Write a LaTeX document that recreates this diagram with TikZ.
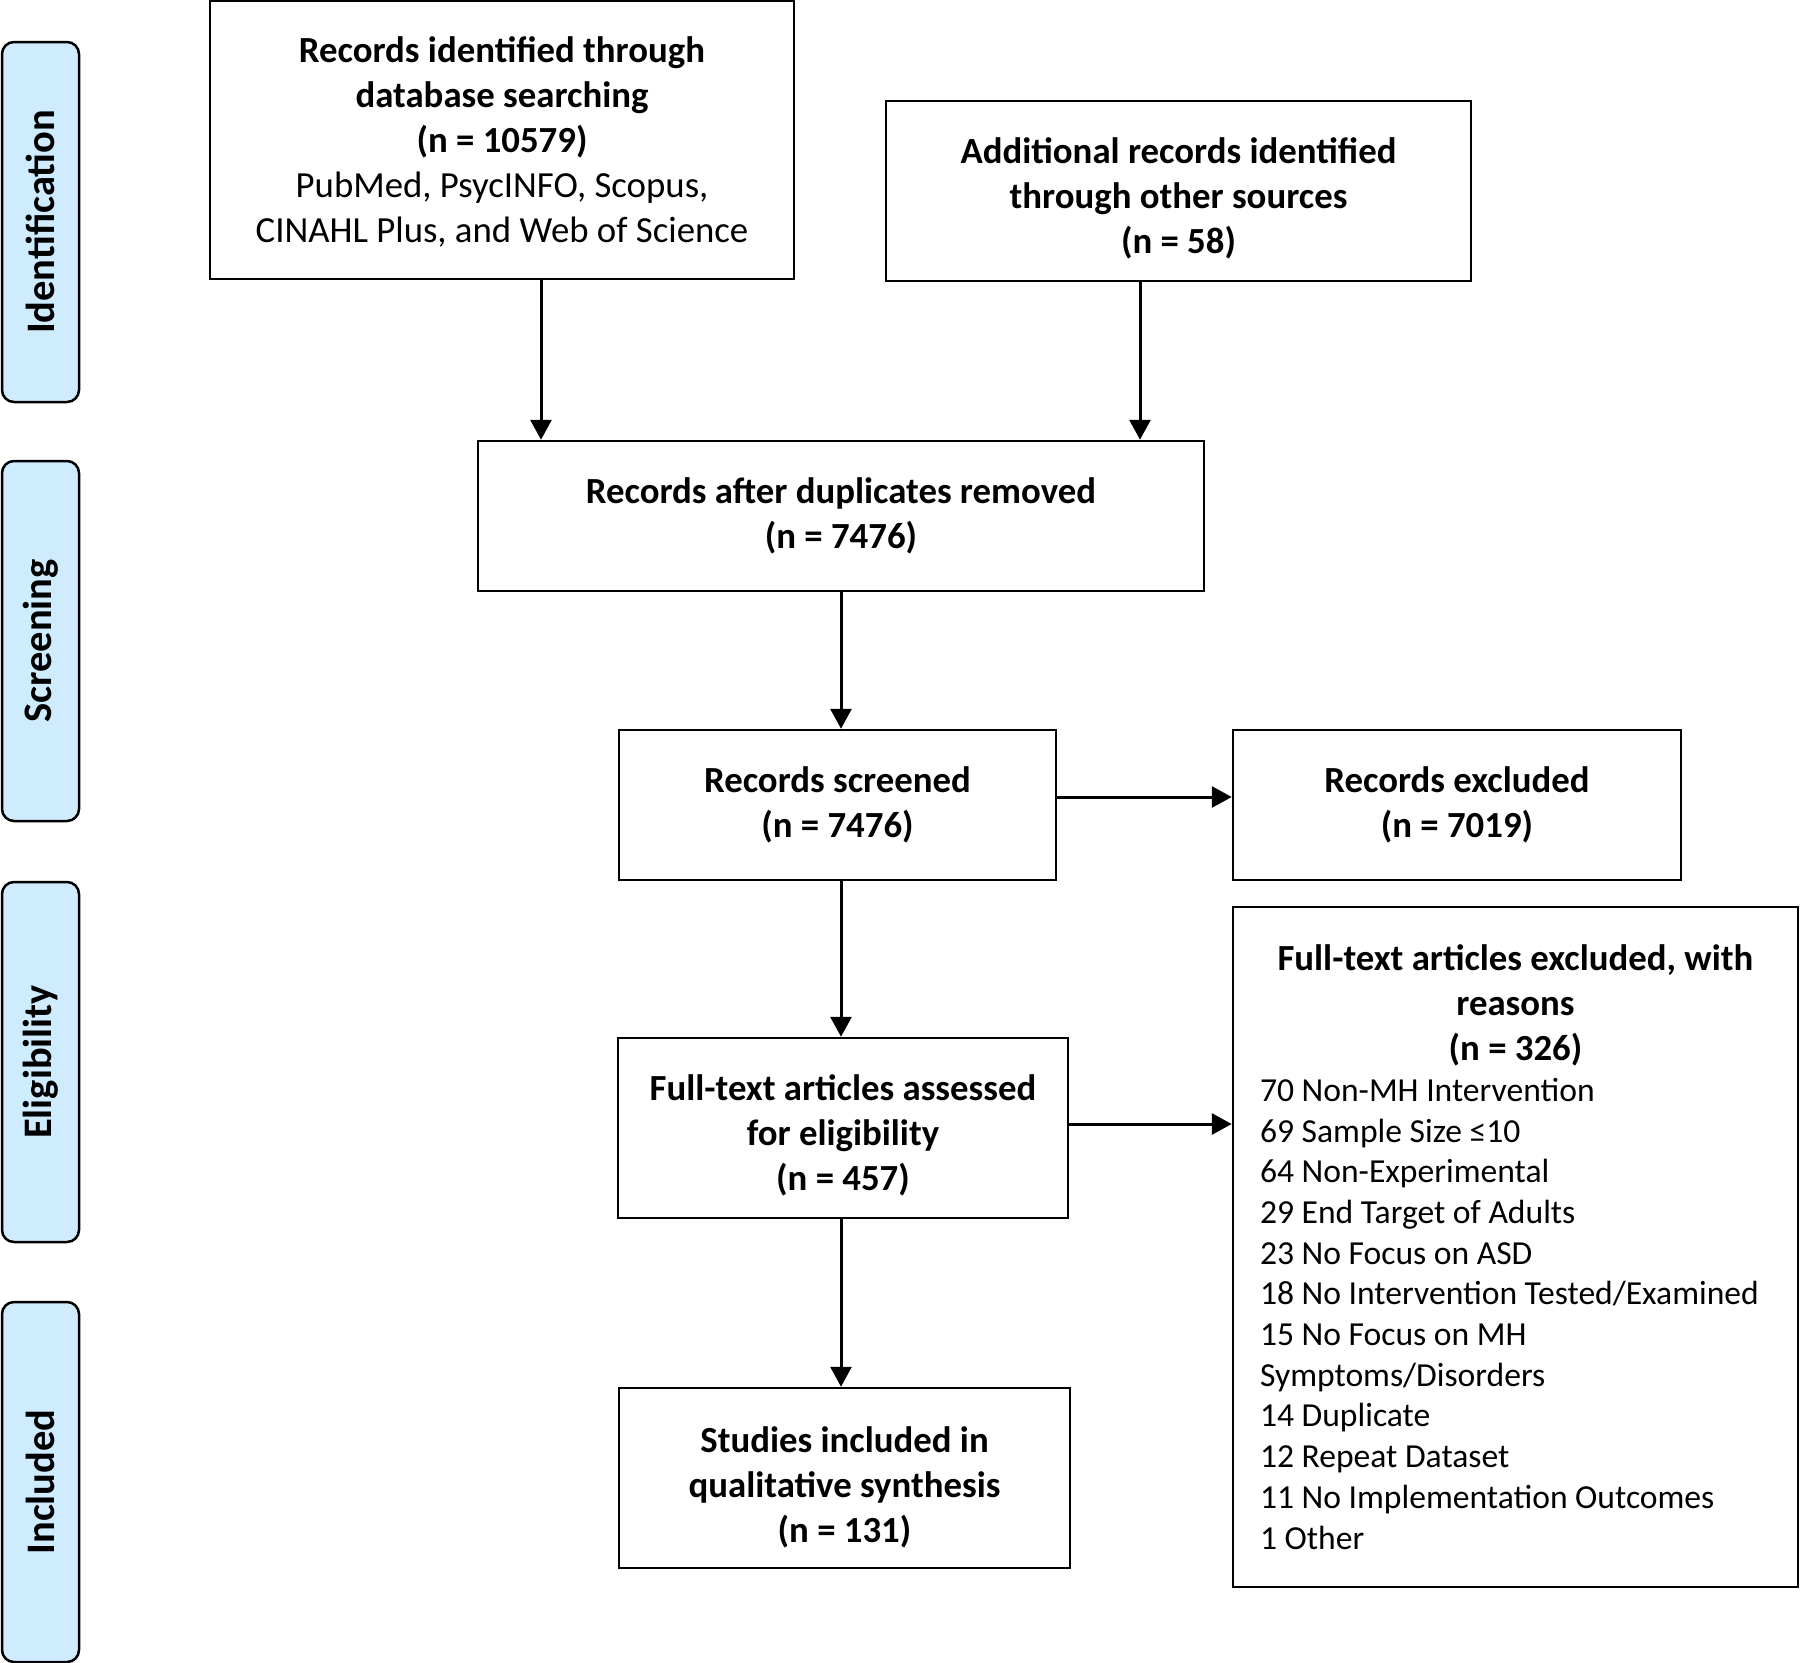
\documentclass[tikz,border=0pt]{standalone}
\usepackage{fontspec}
\setmainfont{Carlito}
\usetikzlibrary{arrows.meta}
\definecolor{phaseblue}{RGB}{207,236,255}
\begin{document}
\begin{tikzpicture}[x=1pt,y=-1pt,
  box/.style={draw, line width=2.5pt, inner sep=0pt, align=center,
    font=\bfseries\fontsize{36.8}{45}\selectfont},
  frame/.style={draw, line width=2.5pt, inner sep=0pt},
  txt/.style={inner sep=0pt, align=center, font=\bfseries\fontsize{36.8}{45}\selectfont},
  phase/.style={draw, fill=phaseblue, line width=2.5pt, rounded corners=12pt,
    minimum width=77pt, minimum height=360pt, inner sep=0pt},
  phasetext/.style={rotate=90, font=\bfseries\fontsize{40.5}{44}\selectfont},
  arr/.style={line width=3pt, -{Triangle[width=21pt,length=20pt]}}]
\useasboundingbox (0,0) rectangle (1800,1663);
% phase bars
\node[phase] (pid) at (40.5,222) {};
\node[phasetext] (tid) at (pid.center) {Identification};
\node[phase] (psc) at (40.5,641) {};
\node[phasetext] (tsc) at (psc.center) {Screening};
\node[phase] (pel) at (40.5,1062) {};
\node[phasetext] (tel) at (pel.center) {Eligibility};
\node[phase] (pin) at (40.5,1482) {};
\node[phasetext] (tin) at (pin.center) {Included};
% boxes
\node[frame, minimum width=584pt, minimum height=278pt] (b1) at (502,140) {};
\node[txt] (t1) at (502,142)
  {Records identified through\\database searching\\(n = 10579)\\
   \mdseries PubMed, PsycINFO, Scopus,\\\mdseries CINAHL Plus, and Web of Science};
\node[frame, minimum width=585pt, minimum height=180pt] (b2) at (1178.5,191) {};
\node[txt] (t2) at (1178.5,198)
  {Additional records identified\\through other sources\\(n = 58)};
\node[box, minimum width=726pt, minimum height=150pt] (b3) at (841,516)
  {Records after duplicates removed\\(n = 7476)};
\node[box, minimum width=437pt, minimum height=150pt] (b4) at (837.5,805)
  {Records screened\\(n = 7476)};
\node[box, minimum width=448pt, minimum height=150pt] (b5) at (1457,805)
  {Records excluded\\(n = 7019)};
\node[frame, minimum width=450pt, minimum height=180pt] (b6) at (843,1128) {};
\node[txt] (t6) at (843,1135)
  {Full-text articles assessed\\for eligibility\\(n = 457)};
\node[frame, minimum width=451pt, minimum height=180pt] (b8) at (844.5,1478) {};
\node[txt] (t8) at (844.5,1487)
  {Studies included in\\qualitative synthesis\\(n = 131)};
\node[frame, minimum width=565pt, minimum height=680pt] (b7) at (1515.5,1247)
  {\begin{minipage}{511pt}
   \centering\bfseries\fontsize{36.8}{45}\selectfont
   Full-text articles excluded, with\\reasons\\(n = 326)\par
   \raggedright\mdseries\fontsize{33.6}{40.7}\selectfont
   70 Non-MH Intervention\\
   69 Sample Size ≤10\\
   64 Non-Experimental\\
   29 End Target of Adults\\
   23 No Focus on ASD\\
   18 No Intervention Tested/Examined\\
   15 No Focus on MH\\
   Symptoms/Disorders\\
   14 Duplicate\\
   12 Repeat Dataset\\
   11 No Implementation Outcomes\\
   1 Other\par
   \end{minipage}};
% connectors
\coordinate (x1) at (541,0);
\coordinate (x2) at (1140,0);
\coordinate (xm) at (841,0);
\coordinate (y1) at (0,797);
\coordinate (y2) at (0,1124);
\draw[arr] (x1 |- b1.south) -- (x1 |- b3.north);
\draw[arr] (x2 |- b2.south) -- (x2 |- b3.north);
\draw[arr] (xm |- b3.south) -- (xm |- b4.north);
\draw[arr] (xm |- b4.south) -- (xm |- b6.north);
\draw[arr] (xm |- b6.south) -- (xm |- b8.north);
\draw[arr] (b4.east |- y1) -- (b5.west |- y1);
\draw[arr] (b6.east |- y2) -- (b7.west |- y2);
\end{tikzpicture}
\end{document}
